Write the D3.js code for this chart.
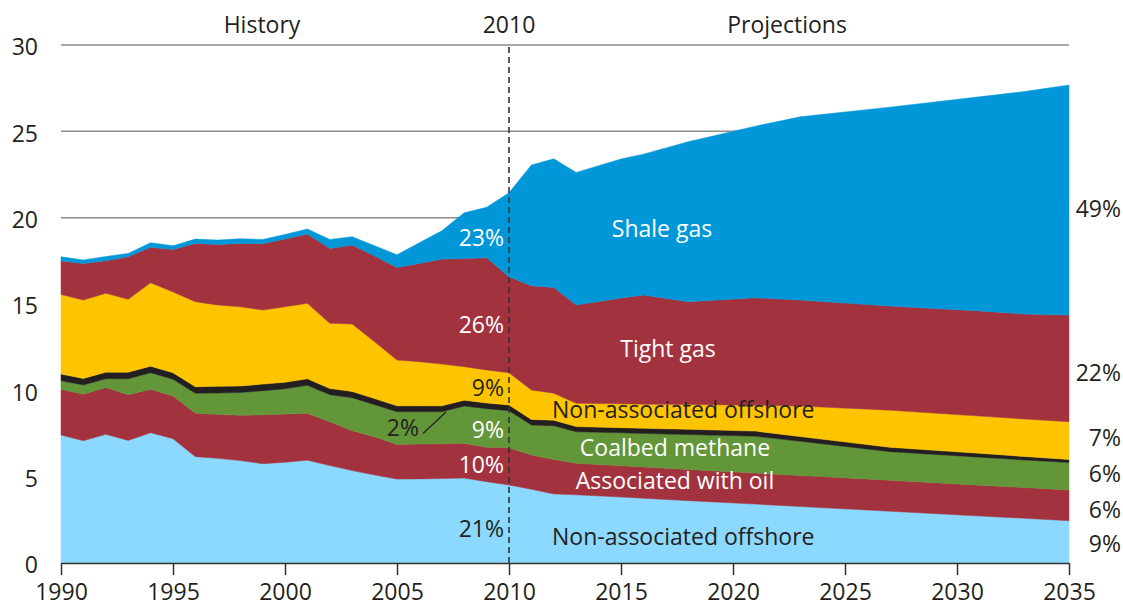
<!DOCTYPE html>
<html>
<head>
<meta charset="utf-8">
<script src="https://cdn.jsdelivr.net/npm/d3@7.9.0/dist/d3.min.js"></script>
<style>
  body { margin: 0; background: #fff; }
  svg text { font-family: "Open Sans", sans-serif; font-size: 23px; fill: #231f20; }
</style>
</head>
<body>
<svg id="chart" width="1123" height="607"></svg>
<script>
// years with a value (history is yearly, projections only at the break points of the outline)
const years = [1990, 1991, 1992, 1993, 1994, 1995, 1996, 1997, 1998, 1999, 2000, 2001,
  2002, 2003, 2004, 2005, 2006, 2007, 2008, 2009, 2010, 2011, 2012, 2013,
  2015, 2016, 2018, 2021, 2023, 2027, 2031, 2033, 2035];

// production by source, tcf
const nonAssocLower = [7.41, 7.08, 7.45, 7.10, 7.55, 7.20, 6.16, 6.06, 5.93, 5.75, 5.83, 5.95,
  5.64, 5.35, 5.10, 4.86, 4.87, 4.89, 4.92, 4.71, 4.52, 4.27, 4.00, 3.95,
  3.82, 3.75, 3.61, 3.41, 3.27, 3.00, 2.72, 2.59, 2.45];
const assocOil = [2.65, 2.69, 2.72, 2.65, 2.51, 2.47, 2.51, 2.55, 2.62, 2.83, 2.80, 2.72,
  2.54, 2.31, 2.21, 2.01, 2.02, 2.02, 2.01, 1.99, 2.16, 1.98, 2.00, 1.82,
  1.81, 1.81, 1.81, 1.80, 1.80, 1.79, 1.79, 1.78, 1.78];
const coalbed = [0.50, 0.54, 0.50, 0.92, 0.96, 0.97, 1.16, 1.24, 1.32, 1.40, 1.46, 1.62,
  1.57, 1.91, 1.86, 1.89, 1.87, 1.85, 2.16, 2.24, 2.14, 1.74, 1.95, 1.83,
  1.91, 1.94, 2.02, 2.13, 1.98, 1.66, 1.62, 1.60, 1.59];
const alaska = [0.38, 0.38, 0.38, 0.38, 0.38, 0.38, 0.38, 0.38, 0.38, 0.38, 0.38, 0.38,
  0.36, 0.36, 0.35, 0.34, 0.34, 0.34, 0.34, 0.33, 0.33, 0.32, 0.32, 0.30,
  0.30, 0.30, 0.30, 0.30, 0.27, 0.25, 0.22, 0.20, 0.18];
const nonAssocUpper = [4.61, 4.54, 4.57, 4.22, 4.83, 4.68, 4.92, 4.71, 4.59, 4.29, 4.37, 4.37,
  3.77, 3.91, 3.29, 2.65, 2.56, 2.42, 1.94, 1.91, 1.87, 1.71, 1.56, 1.35,
  1.38, 1.40, 1.44, 1.50, 1.77, 2.15, 2.16, 2.17, 2.18];
const tightGas = [1.94, 2.12, 1.88, 2.47, 2.05, 2.46, 3.38, 3.51, 3.67, 3.84, 3.92, 4.01,
  4.34, 4.57, 4.97, 5.37, 5.69, 6.08, 6.27, 6.50, 5.56, 6.04, 6.13, 5.69,
  6.13, 6.32, 5.95, 6.22, 6.14, 6.03, 6.09, 6.08, 6.18];
const shaleGas = [0.25, 0.20, 0.25, 0.19, 0.27, 0.21, 0.25, 0.25, 0.27, 0.25, 0.27, 0.29,
  0.52, 0.49, 0.59, 0.73, 1.20, 1.64, 2.64, 2.92, 4.86, 6.99, 7.45, 7.68,
  8.05, 8.16, 9.27, 9.94, 10.61, 11.52, 12.40, 12.88, 13.32];

const keys = ["nonAssocLower", "assocOil", "coalbed", "alaska", "nonAssocUpper", "tightGas", "shaleGas"];
const series = { nonAssocLower, assocOil, coalbed, alaska, nonAssocUpper, tightGas, shaleGas };
const colors = ["#8bd9fe", "#a3323f", "#629638", "#231f20", "#fec400", "#a3323f", "#0097d9"];

const xTicks = [1990, 1995, 2000, 2005, 2010, 2015, 2020, 2025, 2030, 2035];
const yTicks = [0, 5, 10, 15, 20, 25, 30];

// share labels
const shares2010 = ["21%", "10%", "9%", "2%", "9%", "26%", "23%"];
const shares2035 = ["9%", "6%", "6%", "", "7%", "22%", "49%"];

const table = years.map((year, i) => {
  const row = { year };
  keys.forEach((k) => (row[k] = series[k][i]));
  return row;
});

const svg = d3.select("#chart");
const x = d3.scaleLinear().domain([1990, 2035]).range([61, 1069]);
const y = d3.scaleLinear().domain([0, 30]).range([563, 45]);

// gridlines
svg.append("g")
  .selectAll("line")
  .data(yTicks.slice(1))
  .join("line")
  .attr("x1", x(1990))
  .attr("x2", x(2035))
  .attr("y1", (d) => y(d))
  .attr("y2", (d) => y(d))
  .attr("stroke", "#8c8c8c")
  .attr("stroke-width", 1.5);

const stacked = d3.stack().keys(keys)(table);
const area = d3.area()
  .x((d) => x(d.data.year))
  .y0((d) => y(d[0]))
  .y1((d) => y(d[1]));

svg.append("g")
  .selectAll("path")
  .data(stacked)
  .join("path")
  .attr("d", area)
  .attr("fill", (d, i) => colors[i])
  .attr("stroke", (d, i) => colors[i])
  .attr("stroke-width", 0.5);

// 2010 divider
svg.append("line")
  .attr("x1", x(2010))
  .attr("x2", x(2010))
  .attr("y1", y(30) + 2)
  .attr("y2", y(0))
  .attr("stroke", "#333")
  .attr("stroke-width", 1.6)
  .attr("stroke-dasharray", "6,4");

// axes
const xAxis = svg.append("g")
  .attr("transform", `translate(0,${y(0)})`)
  .call(d3.axisBottom(x).tickValues(xTicks).tickFormat(d3.format("d")).tickSize(12).tickSizeOuter(0));
xAxis.select(".domain").attr("stroke", "#333").attr("stroke-width", 1.5);
xAxis.selectAll(".tick line").attr("stroke", "#333").attr("stroke-width", 1.5);
xAxis.selectAll(".tick text").attr("y", 21);
xAxis.attr("font-size", null).attr("font-family", null);

const yAxis = svg.append("g")
  .attr("transform", `translate(${x(1990)},0)`)
  .call(d3.axisLeft(y).tickValues(yTicks).tickSize(0).tickPadding(23));
yAxis.select(".domain").remove();
yAxis.selectAll(".tick text").attr("dy", "0.43em");
yAxis.attr("font-size", null).attr("font-family", null);

// header
const header = [
  { text: "History", x: 262 },
  { text: "2010", x: x(2010) },
  { text: "Projections", x: 787 },
];
svg.append("g")
  .selectAll("text")
  .data(header)
  .join("text")
  .attr("x", (d) => d.x)
  .attr("y", 33)
  .attr("text-anchor", "middle")
  .text((d) => d.text);

// 2010 shares, right aligned against the divider
const shareY2010 = [537, 473, 438, 436, 396, 333, 246];
const shareFill2010 = ["#231f20", "#fff", "#fff", "#231f20", "#231f20", "#fff", "#fff"];
svg.append("g")
  .selectAll("text")
  .data(shares2010)
  .join("text")
  .attr("x", (d, i) => (i === 3 ? 419 : x(2010) - 5))
  .attr("y", (d, i) => shareY2010[i])
  .attr("text-anchor", "end")
  .style("fill", (d, i) => shareFill2010[i])
  .text((d) => d);

svg.append("line")
  .attr("x1", 423)
  .attr("y1", 433.5)
  .attr("x2", 446)
  .attr("y2", 412)
  .attr("stroke", "#231f20")
  .attr("stroke-width", 1.2);

// 2035 shares
const shareY2035 = [552, 518, 482, 0, 446, 381, 217];
svg.append("g")
  .selectAll("text")
  .data(shares2035.map((s, i) => ({ s, i })).filter((d) => d.s))
  .join("text")
  .attr("x", 1121)
  .attr("y", (d) => shareY2035[d.i])
  .attr("text-anchor", "end")
  .text((d) => d.s);

// series names
const names = [
  { text: "Shale gas", x: 662, y: 237, anchor: "middle", fill: "#fff" },
  { text: "Tight gas", x: 668, y: 357, anchor: "middle", fill: "#fff" },
  { text: "Non-associated offshore", x: 552, y: 418, anchor: "start", fill: "#231f20" },
  { text: "Coalbed methane", x: 675, y: 456, anchor: "middle", fill: "#fff" },
  { text: "Associated with oil", x: 675, y: 489, anchor: "middle", fill: "#fff" },
  { text: "Non-associated offshore", x: 552, y: 545, anchor: "start", fill: "#231f20" },
];
svg.append("g")
  .selectAll("text")
  .data(names)
  .join("text")
  .attr("x", (d) => d.x)
  .attr("y", (d) => d.y)
  .attr("text-anchor", (d) => d.anchor)
  .style("fill", (d) => d.fill)
  .text((d) => d.text);
</script>
</body>
</html>
